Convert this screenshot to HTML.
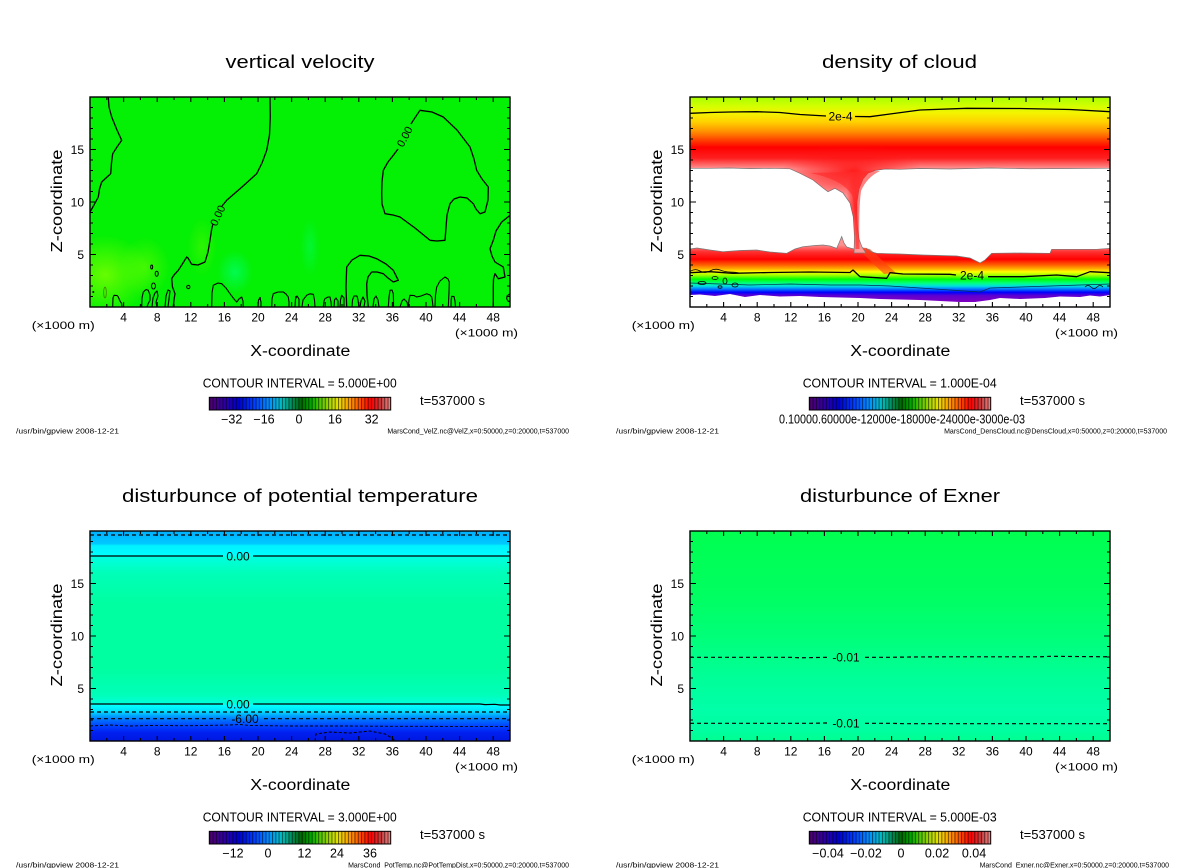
<!DOCTYPE html>
<html><head><meta charset="utf-8"><style>
html,body{margin:0;padding:0;background:#fff;}
svg{display:block;}
text{font-family:"Liberation Sans",sans-serif;fill:#000;}
</style></head><body>
<svg width="1200" height="868" viewBox="0 0 1200 868" xmlns="http://www.w3.org/2000/svg">
<defs>
 <clipPath id="clip" clipPathUnits="userSpaceOnUse"><rect x="0" y="0" width="420" height="210"/></clipPath>
 <clipPath id="tbclip" clipPathUnits="userSpaceOnUse"><path d="M0,0 H420 V71.3 L380,71.5 L340,71.8 L300,71 L260,72 L230,71.5 L210,72.3 L195,72 L185,73.5 L178,76 L173,82 L169,92 L167,105 L167,116 L167.5,130 L169,142 L172,150 L176,156 L164,156 L164.5,140 L163.3,120 L160,106 L153,96 L145,91.3 L138,94.7 L133,91 L123,83 L110,76.3 L100,71.8 L80,71.3 L60,71.6 L40,71 L20,71.3 L0,71.3 Z"/></clipPath>
 <linearGradient id="cb" x1="0" x2="1" y1="0" y2="0">
  <stop offset="0" stop-color="#500070"/><stop offset="0.08" stop-color="#3000a0"/>
  <stop offset="0.16" stop-color="#0000c8"/><stop offset="0.25" stop-color="#0040ff"/>
  <stop offset="0.33" stop-color="#0090ff"/><stop offset="0.40" stop-color="#00c0c0"/>
  <stop offset="0.47" stop-color="#008040"/><stop offset="0.51" stop-color="#006800"/>
  <stop offset="0.56" stop-color="#00a800"/><stop offset="0.61" stop-color="#50c800"/>
  <stop offset="0.67" stop-color="#b0d800"/><stop offset="0.71" stop-color="#e8e000"/>
  <stop offset="0.77" stop-color="#ffa000"/><stop offset="0.83" stop-color="#ff5000"/>
  <stop offset="0.89" stop-color="#ff0000"/><stop offset="0.95" stop-color="#c84040"/>
  <stop offset="1" stop-color="#f08888"/>
 </linearGradient>
 <pattern id="stripes" width="3.3" height="14" patternUnits="userSpaceOnUse">
  <rect x="0" y="0" width="1" height="14" fill="#000" opacity="0.55"/>
 </pattern>
 <g id="cbar">
  <rect width="181.4" height="12.7" fill="url(#cb)"/>
  <rect width="181.4" height="12.7" fill="url(#stripes)"/>
  <rect width="181.4" height="12.7" fill="none" stroke="#000" stroke-width="1"/>
 </g>
 <linearGradient id="tband" gradientUnits="userSpaceOnUse" x1="0" y1="0" x2="0" y2="72">
  <stop offset="0" stop-color="#a8ff00"/><stop offset="0.12" stop-color="#d0ff00"/>
  <stop offset="0.22" stop-color="#f4f400"/><stop offset="0.35" stop-color="#ffd000"/>
  <stop offset="0.48" stop-color="#ff9000"/><stop offset="0.6" stop-color="#ff4000"/>
  <stop offset="0.7" stop-color="#ff0000"/><stop offset="0.85" stop-color="#ff2020"/>
  <stop offset="0.95" stop-color="#ff7070"/><stop offset="1" stop-color="#ff9a9a"/>
 </linearGradient>
 <radialGradient id="dipg"><stop offset="0" stop-color="#ff0808" stop-opacity="0.85"/><stop offset="0.6" stop-color="#ff1010" stop-opacity="0.4"/><stop offset="1" stop-color="#ff1010" stop-opacity="0"/></radialGradient>
 <linearGradient id="lband" gradientUnits="userSpaceOnUse" x1="0" y1="148" x2="0" y2="205">
  <stop offset="0" stop-color="#ff9090"/><stop offset="0.12" stop-color="#ff3030"/>
  <stop offset="0.25" stop-color="#ff0000"/><stop offset="0.35" stop-color="#ff6000"/>
  <stop offset="0.42" stop-color="#ffb000"/><stop offset="0.47" stop-color="#ffff00"/>
  <stop offset="0.53" stop-color="#a0ff00"/><stop offset="0.60" stop-color="#00ff00"/>
  <stop offset="0.67" stop-color="#00ff80"/><stop offset="0.72" stop-color="#00e0e0"/>
  <stop offset="0.77" stop-color="#0080ff"/><stop offset="0.83" stop-color="#0000ff"/>
  <stop offset="0.89" stop-color="#6000d0"/><stop offset="1" stop-color="#8000c0"/>
 </linearGradient>
 <linearGradient id="blg" x1="0" y1="0" x2="0" y2="1">
  <stop offset="0" stop-color="#00b0ff"/><stop offset="0.06" stop-color="#00c8ff"/>
  <stop offset="0.07" stop-color="#00f0ff"/><stop offset="0.115" stop-color="#00ffff"/>
  <stop offset="0.125" stop-color="#00ffe0"/><stop offset="0.2" stop-color="#00ffb8"/>
  <stop offset="0.35" stop-color="#00ffa0"/><stop offset="0.65" stop-color="#00ffa0"/>
  <stop offset="0.78" stop-color="#00ffb8"/><stop offset="0.82" stop-color="#00ffd8"/>
  <stop offset="0.83" stop-color="#00ffff"/><stop offset="0.86" stop-color="#00e0ff"/>
  <stop offset="0.875" stop-color="#00b0ff"/><stop offset="0.9" stop-color="#0070ff"/>
  <stop offset="0.93" stop-color="#0040ff"/><stop offset="0.96" stop-color="#0020f0"/>
  <stop offset="1" stop-color="#0018e0"/>
 </linearGradient>
 <linearGradient id="brg" x1="0" y1="0" x2="0" y2="1">
  <stop offset="0" stop-color="#00ff50"/><stop offset="0.3" stop-color="#00ff60"/>
  <stop offset="0.5" stop-color="#00ff78"/><stop offset="0.7" stop-color="#00ff98"/>
  <stop offset="0.85" stop-color="#00ffa8"/><stop offset="0.95" stop-color="#00ffa0"/>
  <stop offset="1" stop-color="#00ff90"/>
 </linearGradient>
 <radialGradient id="yg"><stop offset="0" stop-color="#80ff00" stop-opacity="0.8"/><stop offset="1" stop-color="#80ff00" stop-opacity="0"/></radialGradient>
 <radialGradient id="cg"><stop offset="0" stop-color="#00ff70" stop-opacity="0.7"/><stop offset="1" stop-color="#00ff70" stop-opacity="0"/></radialGradient>

 <g id="frame">
  <rect x="0" y="0" width="420" height="210" fill="none" stroke="#000" stroke-width="1.4"/>
  <path fill="none" stroke="#000" stroke-width="1.1" d="
  M33.6,210v-5M33.6,0v5M67.2,210v-5M67.2,0v5M100.8,210v-5M100.8,0v5M134.4,210v-5M134.4,0v5
  M168,210v-5M168,0v5M201.6,210v-5M201.6,0v5M235.2,210v-5M235.2,0v5M268.8,210v-5M268.8,0v5
  M302.4,210v-5M302.4,0v5M336,210v-5M336,0v5M369.6,210v-5M369.6,0v5M403.2,210v-5M403.2,0v5
  M16.8,210v-3M16.8,0v3M50.4,210v-3M50.4,0v3M84,210v-3M84,0v3M117.6,210v-3M117.6,0v3
  M151.2,210v-3M151.2,0v3M184.8,210v-3M184.8,0v3M218.4,210v-3M218.4,0v3M252,210v-3M252,0v3
  M285.6,210v-3M285.6,0v3M319.2,210v-3M319.2,0v3M352.8,210v-3M352.8,0v3M386.4,210v-3M386.4,0v3
  M0,157.5h6M420,157.5h-6M0,105h6M420,105h-6M0,52.5h6M420,52.5h-6
  M0,199.5h3M420,199.5h-3M0,189h3M420,189h-3M0,178.5h3M420,178.5h-3M0,168h3M420,168h-3
  M0,147h3M420,147h-3M0,136.5h3M420,136.5h-3M0,126h3M420,126h-3M0,115.5h3M420,115.5h-3
  M0,94.5h3M420,94.5h-3M0,84h3M420,84h-3M0,73.5h3M420,73.5h-3M0,63h3M420,63h-3
  M0,42h3M420,42h-3M0,31.5h3M420,31.5h-3M0,21h3M420,21h-3M0,10.5h3M420,10.5h-3"/>
  <g font-size="12" text-anchor="middle">
   <text x="33.6" y="224.7">4</text><text x="67.2" y="224.7">8</text><text x="100.8" y="224.7">12</text>
   <text x="134.4" y="224.7">16</text><text x="168" y="224.7">20</text><text x="201.6" y="224.7">24</text>
   <text x="235.2" y="224.7">28</text><text x="268.8" y="224.7">32</text><text x="302.4" y="224.7">36</text>
   <text x="336" y="224.7">40</text><text x="369.6" y="224.7">44</text><text x="403.2" y="224.7">48</text>
  </g>
  <g font-size="12" text-anchor="end">
   <text x="-6" y="162">5</text><text x="-6" y="109.5">10</text><text x="-6" y="57">15</text>
  </g>
  <text x="-58.3" y="232" font-size="11" textLength="63" lengthAdjust="spacingAndGlyphs">(×1000 m)</text>
  <text x="365" y="239.7" font-size="11" textLength="63" lengthAdjust="spacingAndGlyphs">(×1000 m)</text>
  <text x="160.3" y="259" font-size="15.5" textLength="100" lengthAdjust="spacingAndGlyphs">X-coordinate</text>
  <text transform="translate(-28,104) rotate(-90)" x="-51.5" y="0" font-size="15.5" textLength="103" lengthAdjust="spacingAndGlyphs">Z-coordinate</text>
  <text x="330" y="308" font-size="12.5" textLength="65" lengthAdjust="spacingAndGlyphs">t=537000 s</text>
  <text x="-74" y="336.5" font-size="7" textLength="103" lengthAdjust="spacingAndGlyphs">/usr/bin/gpview  2008-12-21</text>
  <use href="#cbar" x="119.3" y="300.3"/>
 </g>
</defs>

<!-- ============ TOP LEFT: vertical velocity ============ -->
<g transform="translate(90,97)">
 <text x="135.5" y="-29" font-size="18" textLength="149" lengthAdjust="spacingAndGlyphs">vertical velocity</text>
 <g clip-path="url(#clip)">
  <rect x="0" y="0" width="420" height="210" fill="#04f004"/>
  <ellipse cx="15" cy="178" rx="45" ry="40" fill="url(#yg)"/>
  <ellipse cx="55" cy="170" rx="25" ry="30" fill="url(#yg)" opacity="0.6"/>
  <ellipse cx="112" cy="150" rx="15" ry="30" fill="url(#yg)" opacity="0.4"/>
  <ellipse cx="145" cy="175" rx="18" ry="22" fill="url(#cg)"/>
  <ellipse cx="220" cy="150" rx="10" ry="30" fill="url(#cg)" opacity="0.6"/>
  <g fill="none" stroke="#000" stroke-width="1.3" stroke-linejoin="round">
   <path d="M18.3,0 L19,10 L21.7,20 L27,33 L31.7,43.3 L27,50 L22.7,56.7 L21.5,66 L20.7,76.7 L16,81 L11.7,85 L9.5,92 L8.3,100 L4,108 L0,115"/>
   <path d="M180,0 L180.3,20 L179.5,38 L176.7,53.3 L172,66 L166.7,76.7 L152,90 L136.7,103.3 L132,109"/>
   <path d="M123,127 L121.7,132 L120,143.3 L118,155 L115,165 L108,168 L101.7,167.3 L98,161 L96.7,160 L93,166 L88.3,173.3 L84,178 L81.7,181.7 L82.5,190 L85,196.7 L84,203 L83.3,210"/>
   <path d="M308,52 L303.3,58.3 L298,65 L293.3,73.3 L292,85 L291.7,96.7 L292,107 L295,116.7 L303,118 L310,120 L325,131 L340,143.3 L347,144 L355,143.3 L357,118 L360,106.7 L364,102 L370,100 L377,101 L383.3,106.7 L386,112 L390,116.7 L395,115 L398,103 L398.3,90 L392,82 L386.7,73.3 L384,62 L380,50 L367,33 L353.3,20 L342,15 L330,13.3 L323.3,23.3 L321,27"/>
   <path d="M256.7,210 L256,190 L256.7,170 L262,163 L270,158.3 L279,159 L286.7,161.7 L296,167 L303.3,173.3 L308.3,183.3 L303.3,185 L298,181 L293.3,176.7 L287,175 L281.7,175 L278,180 L276.7,186.7 L277,198 L278.3,210"/>
   <path d="M420,118.3 L411.7,125 L406,134 L403.3,143.3 L400,151.7 L402,159 L405,165 L413.3,170 L415,180 L408.3,181.7 L405,176.7 L403.5,182 L403.3,190 L403.3,210"/>
   <path stroke-width="1.1" d="M22.7,210 L23,201 L24,198.3 L27,198.5 L28.3,200 L30,204 L31.7,206.7 L32,210
   M51.7,210 L52,201 L53.3,195 L56,192.5 L58.3,193.3 L60,198 L60,203.3 L58,207 L57,210
   M62,210 L63,201 L65,196 L67,194 L68,199 L66,205 L67,210
   M75,210 L76,199 L78,193 L80,194 L79,202 L78,210
   M121.7,210 L122,196 L123.3,188.3 L128,186 L131.7,186.7 L136,191 L140,196.7 L144,202 L146.7,205 L149,202 L151.7,200 L153,204 L153.3,210
   M168,210 L168.5,203 L170,201 L171,205 L171,210
   M181.7,210 L182,202 L183.3,196.7 L188,195 L193.3,195 L196,197 L198.3,200 L199,205 L199,210
   M205,210 L205.5,202 L207,199 L209,202 L209,210
   M212,210 L213,203 L216.7,198.3 L220,196.8 L223.3,197.3 L224.5,203 L225,210
   M233.3,210 L234,204 L235,201.7 L238,200 L240,200 L241,205 L241.5,210
   M244,210 L244.5,203 L246,201 L248,204 L248,210
   M250,210 L250.5,203 L251.7,198.3 L254,201 L254,210
   M262,210 L262.5,203 L264,199 L267,199 L268,203 L269,210
   M270,210 L271,204 L273,200 L275,204 L274,210
   M283,210 L284,202 L286,199 L288,203 L289,210
   M298.3,210 L299,200 L300,193.3 L302,193 L303.3,196.7 L303.5,203 L303.5,210
   M310,210 L312,204 L314,202 L317,205 L318,210
   M318.3,210 L319,203 L320,198.3 L324,198.5 L326.7,200 L331,199 L336.7,196.7 L340,198 L341.7,200 L342.5,205 L343,210
   M345,210 L345.5,198 L346.7,190 L350,184 L355,180 L358,182 L359.3,185 L359,195 L358.3,210
   M361,210 L361.2,203 L361.7,199.3 L364,199.5 L365,204 L365.5,210
   M420,196.7 L417,199 L416.7,201.7 L418,204 L420,205"/>
   <ellipse cx="61.7" cy="170" rx="1" ry="2" stroke-width="1"/>
   <ellipse cx="66.7" cy="176.7" rx="1.5" ry="2.5" stroke-width="1"/>
   <ellipse cx="63.5" cy="189" rx="2" ry="3" stroke-width="1"/>
   <ellipse cx="98.3" cy="190" rx="1.6" ry="1.6" stroke-width="1"/>
   <ellipse cx="15" cy="195.5" rx="1.3" ry="5.5" stroke="#3a8a00" stroke-width="0.8"/>
  </g>
  <circle cx="3.3" cy="195" r="1" fill="#000"/>
  <circle cx="170" cy="201" r="1" fill="#000"/>
  <circle cx="206" cy="200" r="1" fill="#000"/>
  <text transform="translate(127.5,118.5) rotate(-65)" text-anchor="middle" y="4" font-size="11">0.00</text>
  <text transform="translate(314.5,39.5) rotate(-62)" text-anchor="middle" y="4" font-size="11">0.00</text>
 </g>
 <use href="#frame"/>
 <text x="112.7" y="290.3" font-size="13" textLength="194" lengthAdjust="spacingAndGlyphs">CONTOUR INTERVAL = 5.000E+00</text>
 <g font-size="12.5" text-anchor="middle">
  <text x="141.7" y="326.3">−32</text><text x="174" y="326.3">−16</text><text x="209" y="326.3">0</text>
  <text x="245" y="326.3">16</text><text x="281.7" y="326.3">32</text>
 </g>
 <text x="479" y="336.5" font-size="7" text-anchor="end">MarsCond_VelZ.nc@VelZ,x=0:50000,z=0:20000,t=537000</text>
</g>

<!-- ============ TOP RIGHT: density of cloud ============ -->
<g transform="translate(690,97)">
 <text x="132" y="-29" font-size="18" textLength="155" lengthAdjust="spacingAndGlyphs">density of cloud</text>
 <g clip-path="url(#clip)">
  <rect x="0" y="0" width="420" height="210" fill="#fff"/>
  <path fill="url(#lband)" d="M0,152 L7,151 L20,153 L33,154.7 L50,153.5 L66.7,153 L80,155 L96.7,156.3 L105,152 L113,149.7 L125,148.5 L133,148 L140,149 L146.7,151.3 L149,146 L151.7,139.5 L154,146 L156.7,150 L160,151 L164,152 L170,150 L176,151 L182,155 L186.7,156.3 L210,157 L233,158 L266.7,159 L280,161 L290,166 L295,163 L301.7,156.3 L330,156 L360,156.3 L361.7,152.3 L385,152.3 L406.7,152.3 L420,151.3 L420,198 L410,199.5 L400,198.5 L390,200 L370,199.5 L355,201 L330,202 L310,201 L300,203 L285,205 L270,205 L250,204 L230,203 L210,202.5 L190,202 L170,201 L150,200.5 L130,200 L110,199 L90,199.5 L70,198 L55,200 L40,197 L25,199 L10,197.5 L0,198 Z"/>
  <path fill="#ff4010" opacity="0.6" d="M166,150 L180,152 L206,176 L194,177 Z"/>
  <path fill="url(#tband)" stroke="#777" stroke-width="0.7" d="M0,0 H420 V71.3 L380,71.5 L340,71.8 L300,71 L260,72 L230,71.5 L210,72.3 L195,72 L185,73.5 L178,76 L173,82 L169,92 L167,105 L167,116 L167.5,130 L169,142 L172,150 L176,156 L164,156 L164.5,140 L163.3,120 L160,106 L153,96 L145,91.3 L138,94.7 L133,91 L123,83 L110,76.3 L100,71.8 L80,71.3 L60,71.6 L40,71 L20,71.3 L0,71.3 Z"/>
  <g clip-path="url(#tbclip)">
   <ellipse cx="162" cy="74" rx="70" ry="26" fill="url(#dipg)"/>
   <ellipse cx="166" cy="110" rx="10" ry="45" fill="url(#dipg)"/>
  </g>
  <path fill="#ff2828" opacity="0.6" d="M120,76 Q152,82 162,98 Q166,112 165.5,152 L169.5,152 Q168.5,112 171,94 Q177,80 190,74 Z"/>
  <path fill="none" stroke="#777" stroke-width="0.7" d="M0,152 L7,151 L20,153 L33,154.7 L50,153.5 L66.7,153 L80,155 L96.7,156.3 L105,152 L113,149.7 L125,148.5 L133,148 L140,149 L146.7,151.3 L149,146 L151.7,139.5 L154,146 L156.7,150 L160,151 L164,152 M176,151 L182,155 L186.7,156.3 L210,157 L233,158 L266.7,159 L280,161 L290,166 L295,163 L301.7,156.3 L330,156 L360,156.3 L361.7,152.3 L385,152.3 L406.7,152.3 L420,151.3"/>
  <path fill="none" stroke="#003050" stroke-width="0.7" d="M0,186 L30,187 L60,188 L100,187 L140,188 L170,188 L200,189 L230,191 L260,193 L290,195 L300,191 L330,190 L360,189 L390,188 L420,187"/>
  <g fill="none" stroke="#000" stroke-width="1.3" stroke-linejoin="round">
   <path d="M0,16.3 L20,15.5 L40,15 L66.7,14.7 L90,15.5 L110,17.5 L136,19 M165,19.5 L180,19.7 L200,17 L230,13 L276.7,11.3 L330,11.5 L380,12.5 L420,14.7"/>
   <path d="M0,175.7 L20,174.7 L43,176.3 L80,175.5 L120,175 L160,175.5 L163,173 L170,179.7 L196.7,181.3 L200,175.7 L213,177 L260,177.3 L266,178 M298,179.7 L333,179.7 L366.7,178 L386.7,179.7 L400,174.7 L420,175.7"/>
  </g>
  <g fill="none" stroke="#000" stroke-width="0.8">
   <path d="M0,174.5 Q5,171 10,174 T20,174 T30,173 T40,175 T50,176"/>
   <ellipse cx="25" cy="181" rx="3" ry="1.5"/><ellipse cx="35" cy="184" rx="2" ry="3"/>
   <ellipse cx="12" cy="186" rx="4" ry="1.5"/><ellipse cx="45" cy="188" rx="3" ry="2"/>
   <ellipse cx="30" cy="190" rx="2" ry="1.2"/>
   <path d="M395,190 q3,-3 6,0 t6,0 t6,0"/>
  </g>
  <text x="150.5" y="23.5" font-size="12" text-anchor="middle">2e-4</text>
  <text x="282" y="182.5" font-size="12" text-anchor="middle">2e-4</text>
 </g>
 <use href="#frame"/>
 <text x="112.7" y="290.3" font-size="13" textLength="194" lengthAdjust="spacingAndGlyphs">CONTOUR INTERVAL = 1.000E-04</text>
 <text x="89" y="326.3" font-size="12.5" textLength="246" lengthAdjust="spacingAndGlyphs">0.10000.60000e-12000e-18000e-24000e-3000e-03</text>
 <text x="477" y="336.5" font-size="7" text-anchor="end">MarsCond_DensCloud.nc@DensCloud,x=0:50000,z=0:20000,t=537000</text>
</g>

<!-- ============ BOTTOM LEFT: potential temperature ============ -->
<g transform="translate(90,531)">
 <text x="32" y="-29" font-size="18" textLength="356" lengthAdjust="spacingAndGlyphs">disturbunce of potential temperature</text>
 <g clip-path="url(#clip)">
  <rect x="0" y="0" width="420" height="210" fill="url(#blg)"/>
  <g fill="none" stroke="#000" stroke-width="1.2">
   <path d="M0,4 H420" stroke-dasharray="4,3"/>
   <path d="M0,25 H133 M163,25 H420"/>
   <path d="M0,173 H133 M163,173 H390 L395,173.6 L405,173.3 L410,174 L420,174"/>
   <path d="M0,181 H420" stroke-dasharray="4,3"/>
   <path d="M0,187.7 H136 M174,187.7 H420" stroke-dasharray="4,3"/>
   <path d="M0,195 L20,194 L40,195 L60,194.5 L100,194.7 L140,194 L150,193.5 L160,194.5 L200,195 L260,195 L300,195.3 L420,195.5" stroke-dasharray="3,2" stroke-width="0.9"/>
   <path d="M225,210 L226,203 L240,201 L260,202 L280,200 L295,203 L302,207 L305,210" stroke-dasharray="3,2" stroke-width="1"/>
  </g>
  <text x="148" y="29.3" font-size="12" text-anchor="middle">0.00</text>
  <text x="148" y="177.3" font-size="12" text-anchor="middle">0.00</text>
  <text x="155" y="192" font-size="12" text-anchor="middle">-6.00</text>
 </g>
 <use href="#frame"/>
 <text x="112.7" y="290.3" font-size="13" textLength="194" lengthAdjust="spacingAndGlyphs">CONTOUR INTERVAL = 3.000E+00</text>
 <g font-size="12.5" text-anchor="middle">
  <text x="143" y="326.3">−12</text><text x="178" y="326.3">0</text><text x="214.5" y="326.3">12</text>
  <text x="247" y="326.3">24</text><text x="280" y="326.3">36</text>
 </g>
 <text x="479" y="336.5" font-size="7" text-anchor="end">MarsCond_PotTemp.nc@PotTempDist,x=0:50000,z=0:20000,t=537000</text>
</g>

<!-- ============ BOTTOM RIGHT: Exner ============ -->
<g transform="translate(690,531)">
 <text x="110" y="-29" font-size="18" textLength="200" lengthAdjust="spacingAndGlyphs">disturbunce of Exner</text>
 <g clip-path="url(#clip)">
  <rect x="0" y="0" width="420" height="210" fill="url(#brg)"/>
  <g fill="none" stroke="#000" stroke-width="1.2" stroke-dasharray="4,3">
   <path d="M0,126.3 H100 L110,126.8 L125,126.5 L137,126.3 M175,126.3 L200,126.3 L220,126 L260,125.8 L350,125.8 L360,125.3 L420,125.8"/>
   <path d="M0,192.3 H120 L135,192 L137,192 M175,192.3 L200,192.3 L215,192.7 L420,192.7"/>
  </g>
  <text x="156" y="130.5" font-size="12" text-anchor="middle">-0.01</text>
  <text x="156" y="196.5" font-size="12" text-anchor="middle">-0.01</text>
 </g>
 <use href="#frame"/>
 <text x="112.7" y="290.3" font-size="13" textLength="194" lengthAdjust="spacingAndGlyphs">CONTOUR INTERVAL = 5.000E-03</text>
 <g font-size="12.5" text-anchor="middle">
  <text x="138" y="326.3">−0.04</text><text x="176" y="326.3">−0.02</text><text x="211" y="326.3">0</text>
  <text x="247" y="326.3">0.02</text><text x="284" y="326.3">0.04</text>
 </g>
 <text x="479" y="336.5" font-size="7" text-anchor="end">MarsCond_Exner.nc@Exner,x=0:50000,z=0:20000,t=537000</text>
</g>
</svg>
</body></html>
